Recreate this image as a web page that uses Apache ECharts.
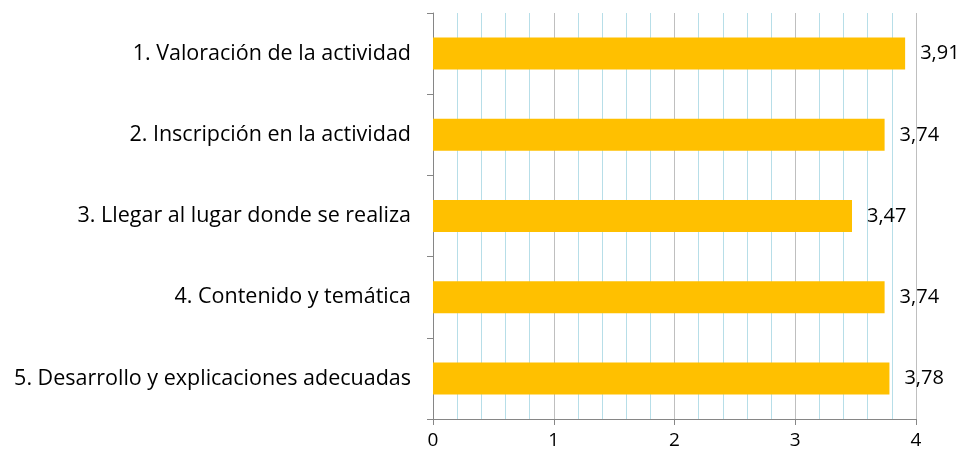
<!DOCTYPE html>
<html>
<head>
<meta charset="utf-8">
<script src="https://cdn.jsdelivr.net/npm/echarts@6/dist/echarts.min.js"></script>
<style>
    html, body { margin: 0; padding: 0; background: #fff; }
    #chart { width: 968px; height: 464px; }
</style>
</head>
<body>
<div id="chart"></div>
<script>
const categories = [
    '1. Valoración de la actividad',
    '2. Inscripción en la actividad',
    '3. Llegar al lugar donde se realiza',
    '4. Contenido y temática',
    '5. Desarrollo y explicaciones adecuadas'
]
const values = [3.91, 3.74, 3.47, 3.74, 3.78]

const fontFamily = 'Open Sans'
const chart = echarts.init(document.getElementById('chart'))
chart.setOption({
    animation: false,
    textStyle: { fontFamily: fontFamily },
    grid: {
        left: 433,
        right: 52,
        top: 13,
        bottom: 45
    },
    xAxis: {
        type: 'value',
        min: 0,
        max: 4,
        interval: 1,
        axisLine: { show: true, lineStyle: { color: '#868686', width: 1 } },
        axisTick: { show: true, length: 6, lineStyle: { color: '#868686' } },
        minorTick: { show: false, splitNumber: 5 },
        axisLabel: { color: '#000', fontSize: 19, margin: 12 },
        splitLine: { show: true, lineStyle: { color: '#BFBFBF', width: 1 } },
        minorSplitLine: { show: true, lineStyle: { color: '#B7DEE8', width: 1 } }
    },
    yAxis: {
        type: 'category',
        inverse: true,
        data: categories,
        axisLine: { show: true, lineStyle: { color: '#868686', width: 1 } },
        axisTick: { show: true, length: 6, lineStyle: { color: '#868686' } },
        axisLabel: { color: '#000', fontSize: 21.5, margin: 22 },
        splitLine: { show: false }
    },
    series: [
        {
            type: 'bar',
            data: values,
            barWidth: 32,
            itemStyle: { color: '#FFC000' },
            label: {
                show: true,
                position: 'right',
                distance: 15,
                color: '#000',
                fontSize: 20,
                formatter: p => p.value.toFixed(2).replace('.', ',')
            }
        }
    ]
})
</script>
</body>
</html>
